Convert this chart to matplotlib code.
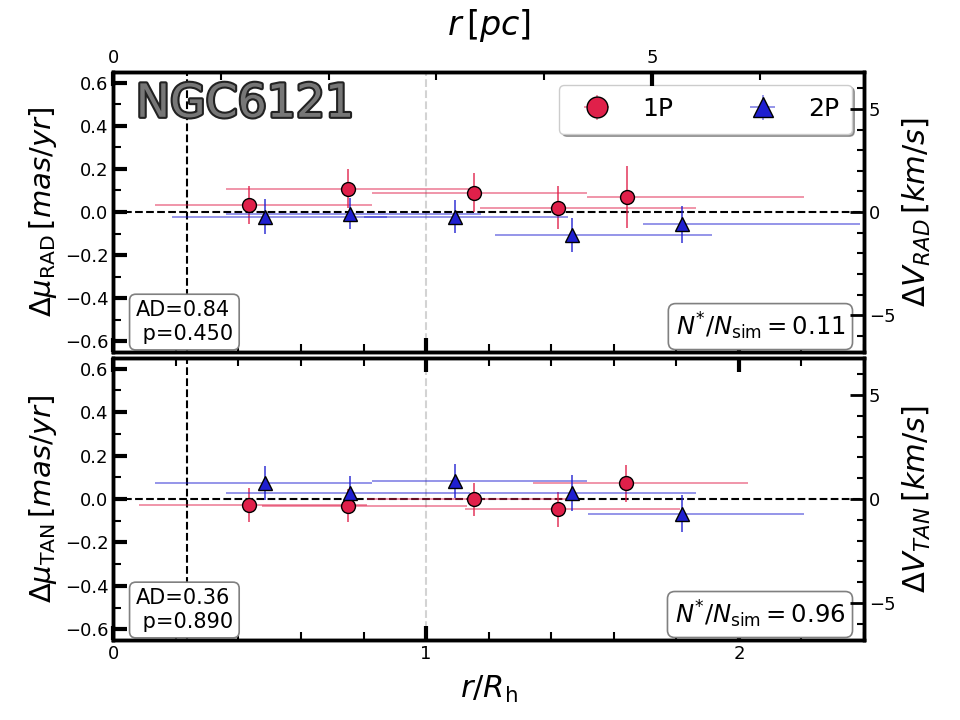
import numpy as np
import matplotlib
matplotlib.use("Agg")
import matplotlib.pyplot as plt
from matplotlib.ticker import MultipleLocator
import matplotlib.patheffects as pe

# ---------------- data ----------------
cluster = "NGC6121"
pop_labels = ["1P", "2P"]

# radial component (top panel)
r1_rad = [0.435, 0.751, 1.152, 1.421, 1.641]
mu1_rad = [0.033, 0.109, 0.090, 0.020, 0.070]
e1_rad = [0.087, 0.090, 0.089, 0.100, 0.146]
lo1_rad = [0.134, 0.361, 0.827, 1.173, 1.513]
hi1_rad = [0.827, 1.141, 1.514, 1.862, 2.208]

r2_rad = [0.486, 0.757, 1.093, 1.467, 1.817]
mu2_rad = [-0.022, -0.007, -0.021, -0.105, -0.057]
e2_rad = [0.081, 0.074, 0.075, 0.079, 0.085]
lo2_rad = [0.187, 0.361, 0.800, 1.220, 1.694]
hi2_rad = [0.874, 1.177, 1.454, 1.913, 2.387]

# tangential component (bottom panel)
r1_tan = [0.435, 0.749, 1.152, 1.421, 1.639]
mu1_tan = [-0.028, -0.031, -0.002, -0.047, 0.072]
e1_tan = [0.078, 0.075, 0.075, 0.080, 0.085]
lo1_tan = [0.083, 0.475, 0.810, 1.125, 1.341]
hi1_tan = [0.810, 1.130, 1.480, 1.812, 2.030]

r2_tan = [0.486, 0.757, 1.093, 1.467, 1.817]
mu2_tan = [0.075, 0.027, 0.084, 0.028, -0.068]
e2_tan = [0.078, 0.077, 0.078, 0.083, 0.084]
lo2_tan = [0.134, 0.361, 0.827, 1.173, 1.519]
hi2_tan = [0.827, 1.141, 1.514, 1.862, 2.208]

ad_rad, p_rad, nsim_rad = "0.84", "0.450", "0.11"
ad_tan, p_tan, nsim_tan = "0.36", "0.890", "0.96"

r_inner = 0.236      # black dashed vertical line (r/Rh)
rh_pc = 2.904        # pc per Rh
kms_per_mas = 10.45  # km/s per mas/yr

# ---------------- style ----------------
RED = "#e0204a"
BLUE = "#1f1fd0"
XLIM = (0, 2.4)
YLIM = (-0.65, 0.65)

fig = plt.figure(figsize=(9.6, 7.2), dpi=100)
ax1 = fig.add_axes([0.118, 0.511, 0.782, 0.389])
ax2 = fig.add_axes([0.118, 0.111, 0.782, 0.392])


def draw(ax, r, mu, e, lo, hi, color, marker, label):
    r = np.asarray(r); mu = np.asarray(mu)
    xerr = np.vstack([r - np.asarray(lo), np.asarray(hi) - r])
    cont = ax.errorbar(r, mu, xerr=xerr, yerr=e, fmt=marker, color=color,
                       mfc=color, mec="k", mew=1.0, ms=10, elinewidth=1.1,
                       capsize=0, label=label, zorder=5)
    bars = cont[2]
    bars[0].set_alpha(0.6)
    bars[1].set_alpha(0.9)
    return cont


def style_main(ax):
    ax.set_xlim(*XLIM)
    ax.set_ylim(*YLIM)
    ax.xaxis.set_major_locator(MultipleLocator(1))
    ax.xaxis.set_minor_locator(MultipleLocator(0.2))
    ax.yaxis.set_major_locator(MultipleLocator(0.2))
    ax.yaxis.set_minor_locator(MultipleLocator(0.1))
    ax.tick_params(which="major", direction="in", length=10, width=3, labelsize=13)
    ax.tick_params(which="minor", direction="in", length=6, width=1.5)
    for s in ax.spines.values():
        s.set_linewidth(2.5)
    ax.axhline(0, color="k", ls="--", lw=1.5, zorder=3)
    ax.axvline(r_inner, color="k", ls="--", lw=1.5, zorder=3)
    ax.axvline(1.0, color="lightgray", ls="--", lw=1.5, zorder=1)


def right_axis(ax, label):
    axr = ax.twinx()
    axr.set_ylim(YLIM[0] * kms_per_mas, YLIM[1] * kms_per_mas)
    axr.yaxis.set_major_locator(MultipleLocator(5))
    axr.yaxis.set_minor_locator(MultipleLocator(1))
    axr.tick_params(which="major", direction="in", length=10, width=2, labelsize=13)
    axr.tick_params(which="minor", direction="in", length=5, width=1.5)
    axr.set_ylabel(label, fontsize=22)
    for s in axr.spines.values():
        s.set_linewidth(2.5)
    return axr


box = dict(boxstyle="round,pad=0.3", fc="white", ec="gray", lw=1.2)

# top panel
style_main(ax1)
draw(ax1, r1_rad, mu1_rad, e1_rad, lo1_rad, hi1_rad, RED, "o", pop_labels[0])
draw(ax1, r2_rad, mu2_rad, e2_rad, lo2_rad, hi2_rad, BLUE, "^", pop_labels[1])
ax1.tick_params(axis="x", which="both", top=False, bottom=True, labelbottom=False)
ax1.set_ylabel(r"$\Delta\mu_{\rm RAD}\,[mas/yr]$", fontsize=21)
right_axis(ax1, r"$\Delta V_{RAD}\,[km/s]$")

axT = ax1.twiny()
axT.set_xlim(XLIM[0] * rh_pc, XLIM[1] * rh_pc)
axT.xaxis.set_major_locator(MultipleLocator(5))
axT.xaxis.set_minor_locator(MultipleLocator(1))
axT.tick_params(which="major", direction="in", length=10, width=3, labelsize=13)
axT.tick_params(which="minor", direction="in", length=6, width=1.5)
axT.set_xlabel(r"$r\,[pc]$", fontsize=24, labelpad=10)

ax1.text(0.03, 0.965, cluster, transform=ax1.transAxes, fontsize=33,
         color="#777777", ha="left", va="top", zorder=10,
         path_effects=[pe.withStroke(linewidth=3, foreground="#222222")])

leg = ax1.legend(loc="upper right", ncol=2, fontsize=18, shadow=True,
                 fancybox=True, markerscale=1.5, handlelength=2.0,
                 columnspacing=2.6, borderpad=0.5)
leg.get_frame().set_edgecolor("#cccccc")
leg.set_zorder(20)

ax1.text(0.03, 0.03, f"AD={ad_rad}\n p={p_rad}", transform=ax1.transAxes,
         fontsize=15, ha="left", va="bottom", bbox=box, zorder=10)
ax1.text(0.975, 0.035, r"$N^{*}/N_{\rm sim}=$" + nsim_rad, transform=ax1.transAxes,
         fontsize=17.5, ha="right", va="bottom", bbox=box, zorder=10)

# bottom panel
style_main(ax2)
draw(ax2, r1_tan, mu1_tan, e1_tan, lo1_tan, hi1_tan, RED, "o", pop_labels[0])
draw(ax2, r2_tan, mu2_tan, e2_tan, lo2_tan, hi2_tan, BLUE, "^", pop_labels[1])
ax2.tick_params(axis="x", which="both", top=True, bottom=True)
ax2.set_ylabel(r"$\Delta\mu_{\rm TAN}\,[mas/yr]$", fontsize=21)
ax2.set_xlabel(r"$r/R_{\rm h}$", fontsize=22, labelpad=8)
right_axis(ax2, r"$\Delta V_{TAN}\,[km/s]$")

ax2.text(0.03, 0.03, f"AD={ad_tan}\n p={p_tan}", transform=ax2.transAxes,
         fontsize=15, ha="left", va="bottom", bbox=box, zorder=10)
ax2.text(0.975, 0.035, r"$N^{*}/N_{\rm sim}=$" + nsim_tan, transform=ax2.transAxes,
         fontsize=17.5, ha="right", va="bottom", bbox=box, zorder=10)

fig.savefig("out.png", dpi=100)
